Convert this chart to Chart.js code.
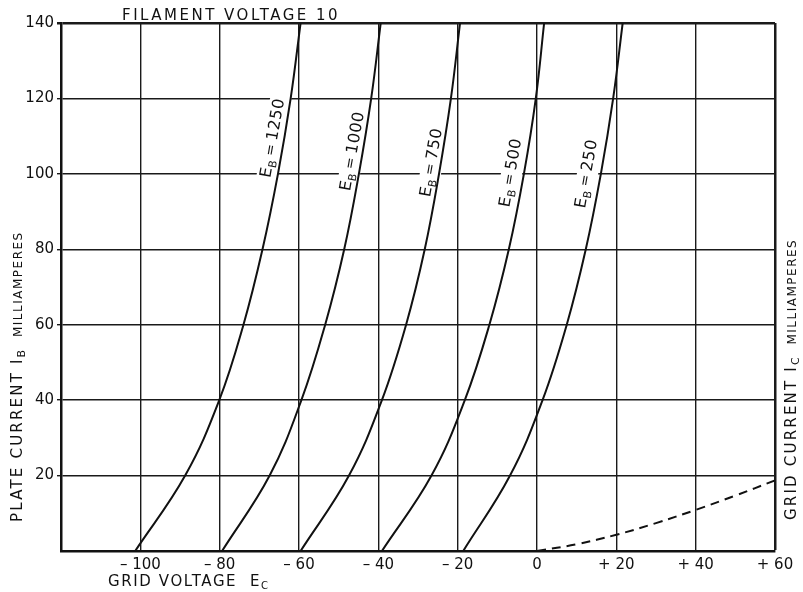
<!DOCTYPE html>
<html>
<head>
<meta charset="utf-8">
<script src="https://cdn.jsdelivr.net/npm/chart.js@4.4.1/dist/chart.umd.min.js"></script>
<style>
  body { margin: 0; background: #fff; }
  #wrap { width: 803px; height: 592px; position: relative; }
</style>
</head>
<body>
<div id="wrap"><canvas id="myChart"></canvas></div>
<script>
// plate current (mA) where each curve was read
const plateCurrent = [0, 20, 40, 60, 80, 100, 120, 140];
// grid voltage at those currents, one list per plate voltage
const eb1250 = [-101.3, -88.7, -80.1, -74.0, -69.2, -65.3, -62.1, -59.6];
const eb1000 = [-79.4, -67.4, -59.4, -53.4, -48.6, -44.9, -41.8, -39.4];
const eb750 = [-59.6, -47.4, -39.1, -33.0, -28.3, -24.7, -21.7, -19.4];
const eb500 = [-39.1, -26.6, -18.2, -12.0, -7.1, -3.3, -0.3, 1.8];
const eb250 = [-18.6, -6.8, 1.4, 7.5, 12.3, 16.1, 19.2, 21.6];

// grid current (dashed)
const gridVolts = [0, 10, 20, 30, 40, 50, 60];
const gridCurrent = [0, 1.8, 4.3, 7.4, 10.9, 14.7, 18.7];

const plateVolts = ['1250', '1000', '750', '500', '250'];
const xTickLabels = ['', '\u2013 100', '\u2013 80', '\u2013 60', '\u2013 40', '\u2013 20', '0', '+ 20', '+ 40', '+ 60'];
const yTickLabels = ['', '20', '40', '60', '80', '100', '120', '140'];

const FONT = '"DejaVu Sans"';
Chart.defaults.font.family = FONT;
Chart.defaults.color = '#111';

const curves = [eb1250, eb1000, eb750, eb500, eb250];

function toPoints(xs, ys) {
    return xs.map((x, i) => ({ x: x, y: ys[i] }));
}

// text runs: [text, size, dy, spacing]
function runsWidth(ctx, parts) {
    let w = 0;
    parts.forEach(p => {
        ctx.font = p[1] + 'px ' + FONT;
        if (p[3] !== undefined) ctx.letterSpacing = p[3] + 'px';
        w += ctx.measureText(p[0]).width;
    });
    return w;
}
function drawRuns(ctx, parts, x, y) {
    parts.forEach(p => {
        ctx.font = p[1] + 'px ' + FONT;
        if (p[3] !== undefined) ctx.letterSpacing = p[3] + 'px';
        ctx.fillText(p[0], x, y + (p[2] || 0));
        x += ctx.measureText(p[0]).width;
    });
}

const lettering = {
    id: 'lettering',
    beforeDatasetsDraw(chart) {
        // curve labels sit on white patches that break the grid
        const ctx = chart.ctx;
        const xs = chart.scales.x, ys = chart.scales.y;
        const spots = [[-66.5, 109.5], [-46.4, 106.0], [-26.5, 103.0], [-6.5, 100.3], [12.6, 100.0]];
        ctx.save();
        ctx.textBaseline = 'middle';
        plateVolts.forEach((v, i) => {
            const parts = [['E', 16, 0, 0.5], ['B', 11, 5], ['\u2009=\u2009', 14, 0], [v, 16, 0]];
            const w = runsWidth(ctx, parts);
            ctx.save();
            ctx.translate(xs.getPixelForValue(spots[i][0]), ys.getPixelForValue(spots[i][1]));
            ctx.rotate(-80 * Math.PI / 180);
            ctx.fillStyle = '#fff';
            ctx.fillRect(-w / 2 - 3, -10, w + 6, 21);
            ctx.fillStyle = '#111';
            drawRuns(ctx, parts, -w / 2, 0);
            ctx.restore();
        });
        ctx.restore();
    },
    afterDraw(chart) {
        const ctx = chart.ctx;
        ctx.save();
        ctx.fillStyle = '#111';
        ctx.textBaseline = 'alphabetic';
        drawRuns(ctx, [['FILAMENT VOLTAGE 10', 15, 0, 2.5]], 122, 20);
        drawRuns(ctx, [['GRID VOLTAGE  E', 15, 0, 1.6], ['C', 10, 3]], 108, 586);

        ctx.textBaseline = 'middle';
        // left axis title
        ctx.save();
        ctx.translate(18, 522);
        ctx.rotate(-Math.PI / 2);
        drawRuns(ctx, [['PLATE CURRENT I', 15, 0, 2.2], ['B', 11, 4], ['  MILLIAMPERES', 12, 1, 1.5]], 0, 0);
        ctx.restore();
        // right axis title
        ctx.save();
        ctx.translate(792, 520);
        ctx.rotate(-Math.PI / 2);
        drawRuns(ctx, [['GRID CURRENT I', 15, 0, 2.2], ['C', 11, 4], ['  MILLIAMPERES', 12, 1, 1.5]], 0, 0);
        ctx.restore();
        ctx.restore();
    }
};

const solid = curves.map((c, i) => ({
    label: 'EB = ' + plateVolts[i],
    data: toPoints(c, plateCurrent),
    showLine: true,
    borderColor: '#111',
    borderWidth: 2,
    pointRadius: 0,
    tension: 0.4
}));

new Chart(document.getElementById('myChart'), {
    type: 'scatter',
    data: {
        datasets: solid.concat([{
            label: 'grid current',
            data: toPoints(gridVolts, gridCurrent),
            showLine: true,
            borderColor: '#111',
            borderWidth: 2,
            borderDash: [9, 6],
            pointRadius: 0,
            tension: 0.4
        }])
    },
    options: {
        responsive: true,
        maintainAspectRatio: false,
        animation: false,
        layout: { padding: { top: 23, right: 28, left: 0, bottom: 0 } },
        plugins: {
            legend: { display: false },
            tooltip: { enabled: false }
        },
        scales: {
            x: {
                type: 'linear',
                min: -120,
                max: 60,
                afterFit(s) { s.height = 41; },
                ticks: {
                    stepSize: 20,
                    autoSkip: false,
                    maxRotation: 0,
                    padding: 5,
                    font: { size: 15 },
                    callback: (v, i) => xTickLabels[i]
                },
                grid: {
                    color: '#1a1a1a',
                    lineWidth: c => (c.tick && c.tick.value === 60) ? 2.5 : 1.4,
                    drawTicks: false
                },
                border: { color: '#111', width: 2.5 }
            },
            y: {
                min: 0,
                max: 140,
                afterFit(s) { s.width = 61; },
                ticks: {
                    stepSize: 20,
                    padding: 3,
                    font: { size: 15 },
                    callback: (v, i) => yTickLabels[i]
                },
                grid: {
                    color: '#1a1a1a',
                    lineWidth: c => (c.tick && c.tick.value === 140) ? 2.5 : 1.4,
                    tickColor: c => (c.tick && c.tick.value === 0) ? 'rgba(0,0,0,0)' : '#1a1a1a',
                    tickLength: 4
                },
                border: { color: '#111', width: 2.5 }
            }
        }
    },
    plugins: [lettering]
});
</script>
</body>
</html>
